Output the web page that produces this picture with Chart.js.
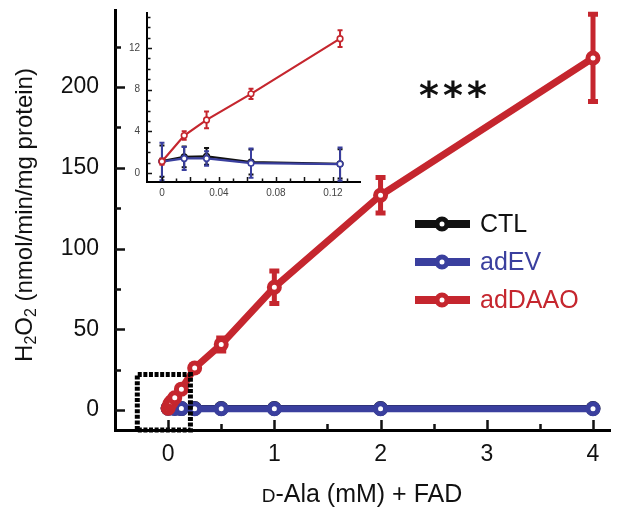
<!DOCTYPE html>
<html>
<head>
<meta charset="utf-8">
<script src="https://cdn.jsdelivr.net/npm/chart.js@4"></script>
<style>
  body { margin: 0; background: #fff; }
  #wrap { position: relative; width: 621px; height: 514px; }
  #main { position: absolute; left: 0; top: 0; }
  #inset { position: absolute; left: 100px; top: 0; }
</style>
</head>
<body>
<div id="wrap">
  <canvas id="main" width="621" height="514"></canvas>
  <canvas id="inset" width="270" height="210"></canvas>
</div>
<script>
// D-Ala concentrations (mM)
const conc = [0, 0.0156, 0.0313, 0.0625, 0.125, 0.25, 0.5, 1, 2, 4];

const ctl = [1.15, 1.55, 1.6, 1.05, 0.88, 0.9, 0.9, 0.9, 0.9, 0.9];
const ctlErr = [1.5, 1.0, 0.8, 1.2, 1.4, 1, 1, 1, 1, 1];
const adEV = [1.1, 1.4, 1.4, 0.95, 0.86, 0.8, 0.8, 0.8, 0.8, 0.8];
const adEVErr = [1.8, 1.1, 0.7, 1.4, 1.6, 1, 1, 1, 1, 1];
const adDAAO = [1.1, 3.6, 5.1, 7.6, 12.9, 26, 40.6, 76, 133, 218];
const adDAAOErr = [0.3, 0.4, 0.8, 0.5, 0.8, 2, 4, 10, 11, 27];

const insetCount = 5; // points shown in the inset (0 - 0.125 mM)

// tick labels / tick marks
const xTicks = [0, 1, 2, 3, 4];
const xMinor = [0.5, 1.5, 2.5, 3.5];
const yTicks = [0, 50, 100, 150, 200];
const yMinor = [25, 75, 125, 175, 225];
const insetXTicks = [0, 0.04, 0.08, 0.12];
const insetXMarks = [0, 0.01, 0.02, 0.03, 0.04, 0.05, 0.06, 0.07, 0.08, 0.09, 0.1, 0.11, 0.12, 0.13];
const insetYTicks = [0, 4, 8, 12];
const insetYMarks = [0, 1, 2, 3, 4, 5, 6, 7, 8, 9, 10, 11, 12, 13, 14, 15];

const BLACK = '#111111';
const BLUE = '#3a3f9e';
const RED = '#c5262e';
const FONT = 'Liberation Sans, Arial, sans-serif';

const pts = (xs, ys) => xs.map((x, i) => ({ x: x, y: ys[i] }));

const errorBars = {
  id: 'errorBars',
  beforeDatasetDraw(chart, args, opts) {
    const ds = chart.data.datasets[args.index];
    if (!ds.err) return;
    const ctx = chart.ctx, y = chart.scales.y;
    ctx.save();
    ctx.strokeStyle = ds.borderColor;
    ctx.lineWidth = opts.width;
    args.meta.data.forEach((p, i) => {
      const top = y.getPixelForValue(ds.data[i].y + ds.err[i]);
      const bot = y.getPixelForValue(ds.data[i].y - ds.err[i]);
      ctx.beginPath();
      ctx.moveTo(p.x, top); ctx.lineTo(p.x, bot);
      ctx.moveTo(p.x - opts.cap, top); ctx.lineTo(p.x + opts.cap, top);
      ctx.moveTo(p.x - opts.cap, bot); ctx.lineTo(p.x + opts.cap, bot);
      ctx.stroke();
    });
    ctx.restore();
  }
};

// inward tick marks
function drawMarks(chart, opts) {
  const ctx = chart.ctx, a = chart.chartArea;
  const xs = chart.scales.x, ys = chart.scales.y;
  ctx.save();
  ctx.strokeStyle = BLACK;
  ctx.lineWidth = opts.width;
  ctx.beginPath();
  opts.x.forEach(v => {
    const px = Math.round(xs.getPixelForValue(v)) + 0.5;
    const len = opts.xMajor.includes(v) ? opts.major : opts.minor;
    ctx.moveTo(px, a.bottom); ctx.lineTo(px, a.bottom - len);
  });
  opts.y.forEach(v => {
    const py = Math.round(ys.getPixelForValue(v)) + 0.5;
    const len = opts.yMajor.includes(v) ? opts.major : opts.minor;
    ctx.moveTo(a.left, py); ctx.lineTo(a.left + len, py);
  });
  ctx.stroke();
  ctx.restore();
}

const mainDecor = {
  id: 'mainDecor',
  afterDatasetsDraw(chart) {
    const ctx = chart.ctx;
    const xs = chart.scales.x, ys = chart.scales.y;
    // dotted box marking the inset region
    const l = xs.getPixelForValue(-0.29), r = xs.getPixelForValue(0.21);
    const t = ys.getPixelForValue(22), b = chart.chartArea.bottom;
    ctx.save();
    ctx.strokeStyle = '#000';
    ctx.lineWidth = 5;
    ctx.setLineDash([4, 1.6]);
    ctx.beginPath();
    ctx.moveTo(l, b); ctx.lineTo(l, t); ctx.lineTo(r, t); ctx.lineTo(r, b); ctx.lineTo(l, b);
    ctx.stroke();
    ctx.restore();
  },
  afterDraw(chart) {
    const ctx = chart.ctx;
    drawMarks(chart, { x: xTicks.concat(xMinor), xMajor: xTicks, y: yTicks.concat(yMinor), yMajor: yTicks,
      major: 10, minor: 6, width: 2.5 });

    // legend
    ctx.save();
    chart.data.datasets.forEach((ds, i) => {
      const y = 224 + i * 38;
      ctx.strokeStyle = ds.borderColor;
      ctx.lineWidth = 8;
      ctx.beginPath(); ctx.moveTo(415, y); ctx.lineTo(470, y); ctx.stroke();
      ctx.lineWidth = 5;
      ctx.fillStyle = '#fff';
      ctx.beginPath(); ctx.arc(442, y, 5, 0, Math.PI * 2); ctx.fill(); ctx.stroke();
      ctx.fillStyle = ds.borderColor;
      ctx.font = '25px ' + FONT;
      ctx.textBaseline = 'middle';
      ctx.fillText(ds.label, 480, y + 1);
    });

    // significance
    ctx.fillStyle = '#111';
    ctx.font = 'bold 38px DejaVu Sans';
    ctx.textAlign = 'center';
    ctx.textBaseline = 'alphabetic';
    ['*', '*', '*'].forEach((s, i) => ctx.fillText(s, 429 + i * 24, 108));

    // x title: small-caps D
    ctx.fillStyle = '#111';
    ctx.textAlign = 'left';
    ctx.font = '19px ' + FONT;
    const wD = ctx.measureText('D').width;
    ctx.font = '25px ' + FONT;
    const rest = '-Ala (mM) + FAD';
    const wR = ctx.measureText(rest).width;
    let x0 = 362 - (wD + wR) / 2;
    ctx.font = '19px ' + FONT;
    ctx.fillText('D', x0, 502);
    ctx.font = '25px ' + FONT;
    ctx.fillText(rest, x0 + wD, 502);

    // y title with subscripts
    const parts = [['H', 24, 0], ['2', 16, 4], ['O', 24, 0], ['2', 16, 4], [' (nmol/min/mg protein)', 24, 0]];
    let total = 0;
    parts.forEach(p => { ctx.font = p[1] + 'px ' + FONT; total += ctx.measureText(p[0]).width; });
    ctx.translate(32, 215);
    ctx.rotate(-Math.PI / 2);
    let tx = -total / 2;
    parts.forEach(p => {
      ctx.font = p[1] + 'px ' + FONT;
      ctx.fillText(p[0], tx, p[2]);
      tx += ctx.measureText(p[0]).width;
    });
    ctx.restore();
  }
};

const insetDecor = {
  id: 'insetDecor',
  afterDraw(chart) {
    drawMarks(chart, { x: insetXMarks, xMajor: [0, 0.02, 0.04, 0.06, 0.08, 0.1, 0.12], y: insetYMarks, yMajor: insetYTicks,
      major: 5, minor: 3.5, width: 1.5 });
  }
};

function dataset(label, ys, err, color, order, n, main) {
  return {
    label: label,
    data: pts(conc.slice(0, n), ys.slice(0, n)),
    err: err.slice(0, n),
    borderColor: color,
    backgroundColor: color,
    borderWidth: main ? 7 : 2.2,
    pointRadius: main ? 5 : 2.8,
    pointBorderWidth: main ? 5 : 1.6,
    pointBackgroundColor: '#fff',
    pointBorderColor: color,
    tension: 0,
    order: order
  };
}

// fix axis sizes so the plot area lands where the figure has it
const noPadX = h => s => { s.height = h; s.paddingLeft = 0; s.paddingRight = 0; };
const noPadY = w => s => { s.width = w; s.paddingTop = 0; s.paddingBottom = 0; };

new Chart(document.getElementById('main'), {
  type: 'line',
  data: {
    datasets: [
      dataset('CTL', ctl, ctlErr, BLACK, 3, conc.length, true),
      dataset('adEV', adEV, adEVErr, BLUE, 2, conc.length, true),
      dataset('adDAAO', adDAAO, adDAAOErr, RED, 1, conc.length, true)
    ]
  },
  options: {
    responsive: false,
    animation: false,
    clip: false,
    layout: { padding: { top: 10, right: 11, left: 0, bottom: 0 }, autoPadding: false },
    plugins: {
      legend: { display: false },
      tooltip: { enabled: false },
      errorBars: { width: 5, cap: 5 }
    },
    scales: {
      x: {
        type: 'linear', min: -0.5, max: 4.16,
        afterBuildTicks: s => { s.ticks = xTicks.map(v => ({ value: v })); },
        afterFit: noPadX(84),
        grid: { display: false, drawTicks: false },
        border: { display: true, color: '#000', width: 3 },
        ticks: { color: '#111', font: { family: FONT, size: 23 }, padding: 11, maxRotation: 0 }
      },
      y: {
        type: 'linear', min: -12.4, max: 247.7,
        afterBuildTicks: s => { s.ticks = yTicks.map(v => ({ value: v })); },
        afterFit: noPadY(115),
        grid: { display: false, drawTicks: false },
        border: { display: true, color: '#000', width: 3 },
        ticks: { color: '#111', font: { family: FONT, size: 23 }, padding: 16 }
      }
    }
  },
  plugins: [errorBars, mainDecor]
});

new Chart(document.getElementById('inset'), {
  type: 'line',
  data: {
    datasets: [
      dataset('CTL', ctl, ctlErr, BLACK, 3, insetCount, false),
      dataset('adEV', adEV, adEVErr, BLUE, 2, insetCount, false),
      dataset('adDAAO', adDAAO, adDAAOErr, RED, 1, insetCount, false)
    ]
  },
  options: {
    responsive: false,
    animation: false,
    clip: false,
    layout: { padding: { top: 13, right: 10, left: 0, bottom: 0 }, autoPadding: false },
    plugins: {
      legend: { display: false },
      tooltip: { enabled: false },
      errorBars: { width: 2, cap: 2.5 }
    },
    scales: {
      x: {
        type: 'linear', min: -0.0105, max: 0.139,
        afterBuildTicks: s => { s.ticks = insetXTicks.map(v => ({ value: v })); },
        afterFit: noPadX(28),
        grid: { display: false, drawTicks: false },
        border: { display: true, color: '#000', width: 2 },
        ticks: { color: '#444', font: { family: FONT, size: 10 }, padding: 5, maxRotation: 0,
          callback: v => v === 0 ? '0' : v.toFixed(2) }
      },
      y: {
        type: 'linear', min: -0.86, max: 15.36,
        afterBuildTicks: s => { s.ticks = insetYTicks.map(v => ({ value: v })); },
        afterFit: noPadY(47),
        grid: { display: false, drawTicks: false },
        border: { display: true, color: '#000', width: 2 },
        ticks: { color: '#444', font: { family: FONT, size: 10 }, padding: 7 }
      }
    }
  },
  plugins: [errorBars, insetDecor]
});
</script>
</body>
</html>
